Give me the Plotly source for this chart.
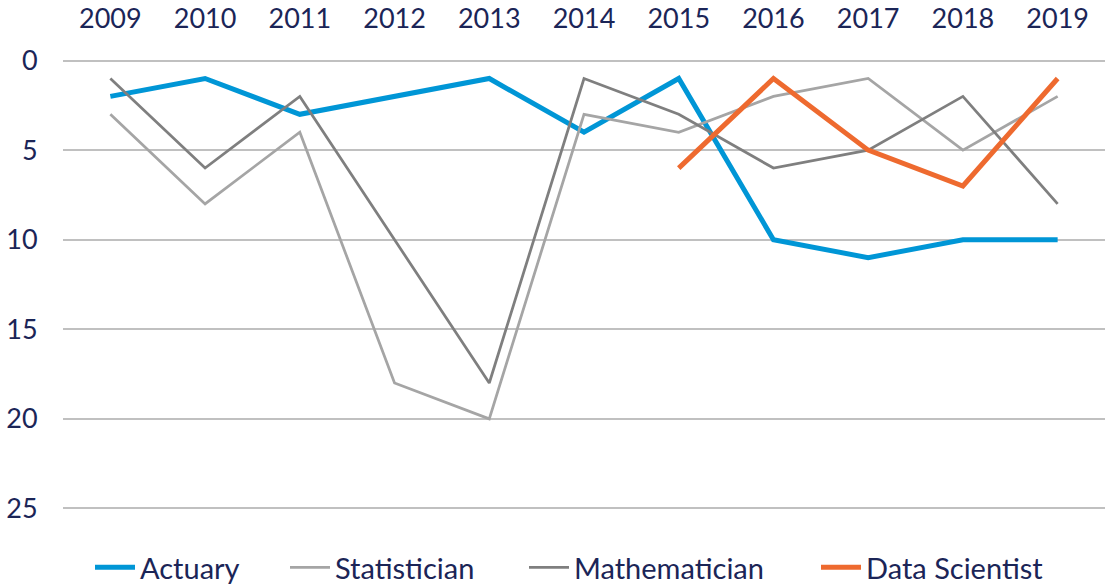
import plotly.graph_objects as go

years = ["2009", "2010", "2011", "2012", "2013", "2014", "2015", "2016", "2017", "2018", "2019"]
actuary = [2, 1, 3, 2, 1, 4, 1, 10, 11, 10, 10]
statistician = [3, 8, 4, 18, 20, 3, 4, 2, 1, 5, 2]
mathematician = [1, 6, 2, 10, 18, 1, 3, 6, 5, 2, 8]
data_scientist = [None, None, None, None, None, None, 6, 1, 5, 7, 1]
y_ticks = [0, 5, 10, 15, 20, 25]

navy = "#1B2557"
W, H = 1105, 585
L, T = 63, 57
B = H - 511.6
PW = W - L

fig = go.Figure()
series = [
    ("Actuary", actuary, "#0096D6", 5),
    ("Statistician", statistician, "#A5A5A5", 2.75),
    ("Mathematician", mathematician, "#7F7F7F", 2.75),
    ("Data Scientist", data_scientist, "#EE6A2F", 5),
]
legend_ids = ["legend", "legend2", "legend3", "legend4"]
legend_text_px = [141, 336, 575, 867]
for (name, vals, color, w), lid in zip(series, legend_ids):
    fig.add_trace(go.Scatter(x=years, y=vals, name=name, mode="lines", legend=lid,
                             line=dict(color=color, width=w), connectgaps=False))

plot_h = H - T - B
legend_y = -(567 - 511.6) / plot_h
legend_common = dict(orientation="h", yanchor="middle", y=legend_y, xanchor="left",
                     font=dict(size=29, color=navy), itemwidth=40,
                     bgcolor="rgba(0,0,0,0)")
legend_layout = {}
for lid, tx in zip(legend_ids, legend_text_px):
    legend_layout[lid] = dict(legend_common, x=(tx - 51 - L) / PW)

fig.update_layout(
    width=W, height=H,
    margin=dict(l=L, r=0, t=T, b=B, autoexpand=False),
    paper_bgcolor="white", plot_bgcolor="white",
    font=dict(family="Lato, Open Sans, sans-serif", size=26, color=navy),
    showlegend=True,
    xaxis=dict(type="category", side="top", showgrid=False, zeroline=False, showline=False,
               range=[-0.5, len(years) - 0.5], automargin=False,
               ticks="outside", ticklen=17, tickcolor="rgba(0,0,0,0)",
               tickfont=dict(size=27, color=navy)),
    yaxis=dict(range=[25.2, -0.2], tickvals=y_ticks, showgrid=True, gridcolor="#C0C0C0", gridwidth=1.5,
               zeroline=False, showline=False, ticks="outside", ticklen=19, automargin=False,
               tickcolor="rgba(0,0,0,0)", tickfont=dict(size=27, color=navy)),
    **legend_layout,
)
fig.write_html("out.html", config={"displayModeBar": False},
               post_script="document.body.style.margin='0';")
